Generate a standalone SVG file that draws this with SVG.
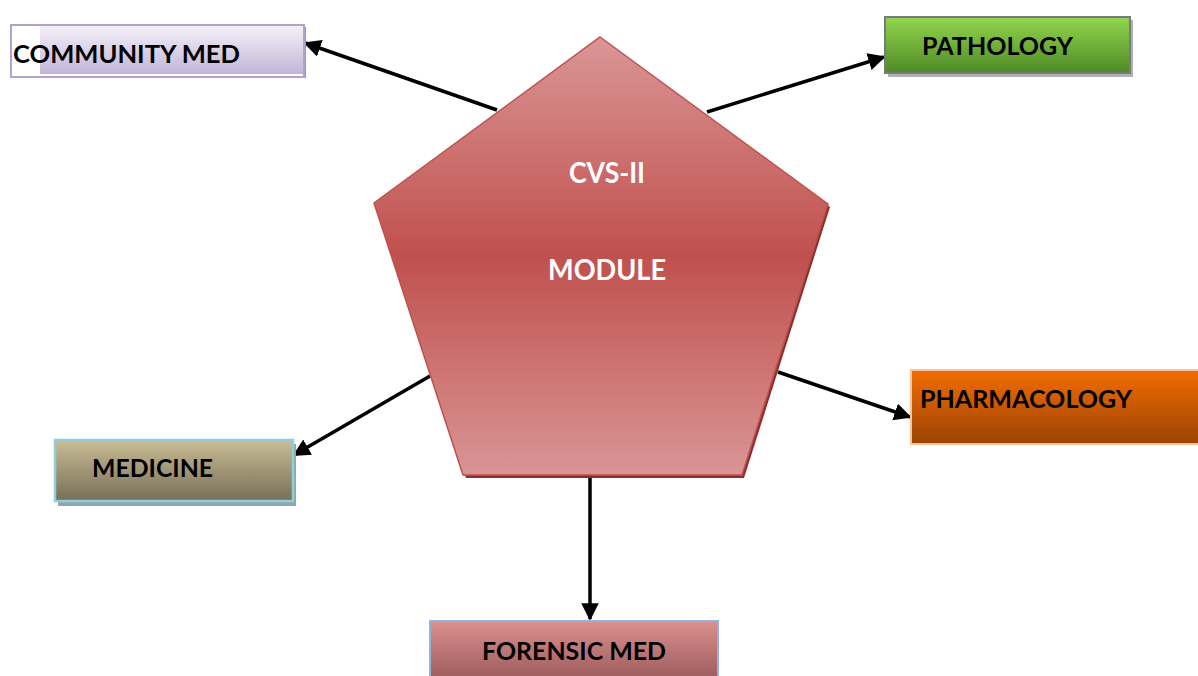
<svg xmlns="http://www.w3.org/2000/svg" width="1198" height="676" viewBox="0 0 1198 676">
  <defs>
    <linearGradient id="gPent" x1="0" y1="0" x2="0" y2="1">
      <stop offset="0" stop-color="#da9696"/>
      <stop offset="0.5" stop-color="#c0504d"/>
      <stop offset="1" stop-color="#d99595"/>
    </linearGradient>
    <linearGradient id="gComm" x1="0" y1="0" x2="0" y2="1">
      <stop offset="0" stop-color="#f3f0f8"/>
      <stop offset="1" stop-color="#c3b5d8"/>
    </linearGradient>
    <linearGradient id="gPath" x1="0" y1="0" x2="0" y2="1">
      <stop offset="0" stop-color="#92d64e"/>
      <stop offset="1" stop-color="#4f8a26"/>
    </linearGradient>
    <linearGradient id="gPharm" x1="0" y1="0" x2="0" y2="1">
      <stop offset="0" stop-color="#f26d00"/>
      <stop offset="1" stop-color="#9c4205"/>
    </linearGradient>
    <linearGradient id="gMed" x1="0" y1="0" x2="0" y2="1">
      <stop offset="0" stop-color="#c9bd94"/>
      <stop offset="1" stop-color="#776e58"/>
    </linearGradient>
    <linearGradient id="gFor" x1="0" y1="0" x2="0" y2="1">
      <stop offset="0" stop-color="#dc9090"/>
      <stop offset="1" stop-color="#9b5a5a"/>
    </linearGradient>
    <marker id="arrow" viewBox="0 0 10 10" refX="9" refY="5" markerWidth="5" markerHeight="5" markerUnits="strokeWidth" orient="auto">
      <path d="M0,0 L10,5 L0,10 Z" fill="#000"/>
    </marker>
  </defs>
  <style>
    .lbl { font-family: Lato, "Open Sans", "Liberation Sans", sans-serif; font-weight: bold; font-size: 24px; fill: #000; }
    .pent { font-family: Lato, "Open Sans", "Liberation Sans", sans-serif; font-weight: bold; font-size: 28px; fill: #fff; }
    .conn line { stroke: #000; stroke-width: 3.5; marker-end: url(#arrow); }
  </style>
  <rect width="1198" height="676" fill="#fff"/>

  <!-- connectors -->
  <g id="connectors" class="conn">
    <line x1="497" y1="110" x2="305" y2="43"/>
    <line x1="707" y1="112" x2="884" y2="57"/>
    <line x1="778" y1="372" x2="910" y2="417"/>
    <line x1="430" y1="376" x2="294" y2="455"/>
    <line x1="590" y1="478" x2="590" y2="619"/>
  </g>

  <!-- central pentagon -->
  <g id="module">
    <polygon points="602,40 830,207 744,478 466,478 377,206" fill="#8c2f2c"/>
    <polygon points="600,37 828,204 742,475 463,475 374,203" fill="url(#gPent)" stroke="#c0504d" stroke-width="1.5"/>
    <text class="pent" x="569" y="183" textLength="76" lengthAdjust="spacingAndGlyphs">CVS-II</text>
    <text class="pent" x="548" y="280" textLength="118" lengthAdjust="spacingAndGlyphs">MODULE</text>
  </g>

  <!-- COMMUNITY MED -->
  <g id="community-med">
    <rect x="42" y="27" width="264" height="51" fill="#9e94b4"/>
    <rect x="11" y="25" width="293" height="52" fill="#fff" stroke="#b3a2cc" stroke-width="2"/>
    <rect x="40" y="26" width="263" height="48" fill="url(#gComm)"/>
    <text class="lbl" x="13" y="63" textLength="227" lengthAdjust="spacingAndGlyphs">COMMUNITY MED</text>
  </g>

  <!-- PATHOLOGY -->
  <g id="pathology">
    <rect x="888" y="20" width="245" height="57" fill="#b0b0b0"/>
    <rect x="885" y="17" width="245" height="56" fill="url(#gPath)" stroke="#7a7a7a" stroke-width="2"/>
    <text class="lbl" x="922" y="55" textLength="151" lengthAdjust="spacingAndGlyphs">PATHOLOGY</text>
  </g>

  <!-- PHARMACOLOGY -->
  <g id="pharmacology">
    <rect x="911" y="370" width="292" height="74" fill="url(#gPharm)" stroke="#f9c499" stroke-width="2"/>
    <text class="lbl" x="920" y="408" textLength="212" lengthAdjust="spacingAndGlyphs">PHARMACOLOGY</text>
  </g>

  <!-- MEDICINE -->
  <g id="medicine">
    <rect x="58" y="444" width="238" height="62" fill="#8fa6b0"/>
    <rect x="55" y="440" width="238" height="61" fill="url(#gMed)" stroke="#92cddc" stroke-width="2.5"/>
    <text class="lbl" x="92" y="477" textLength="121" lengthAdjust="spacingAndGlyphs">MEDICINE</text>
  </g>

  <!-- FORENSIC MED -->
  <g id="forensic-med">
    <rect x="430" y="621" width="288" height="60" fill="url(#gFor)" stroke="#95b3d7" stroke-width="2"/>
    <text class="lbl" x="482" y="660" textLength="184" lengthAdjust="spacingAndGlyphs">FORENSIC MED</text>
  </g>
</svg>
